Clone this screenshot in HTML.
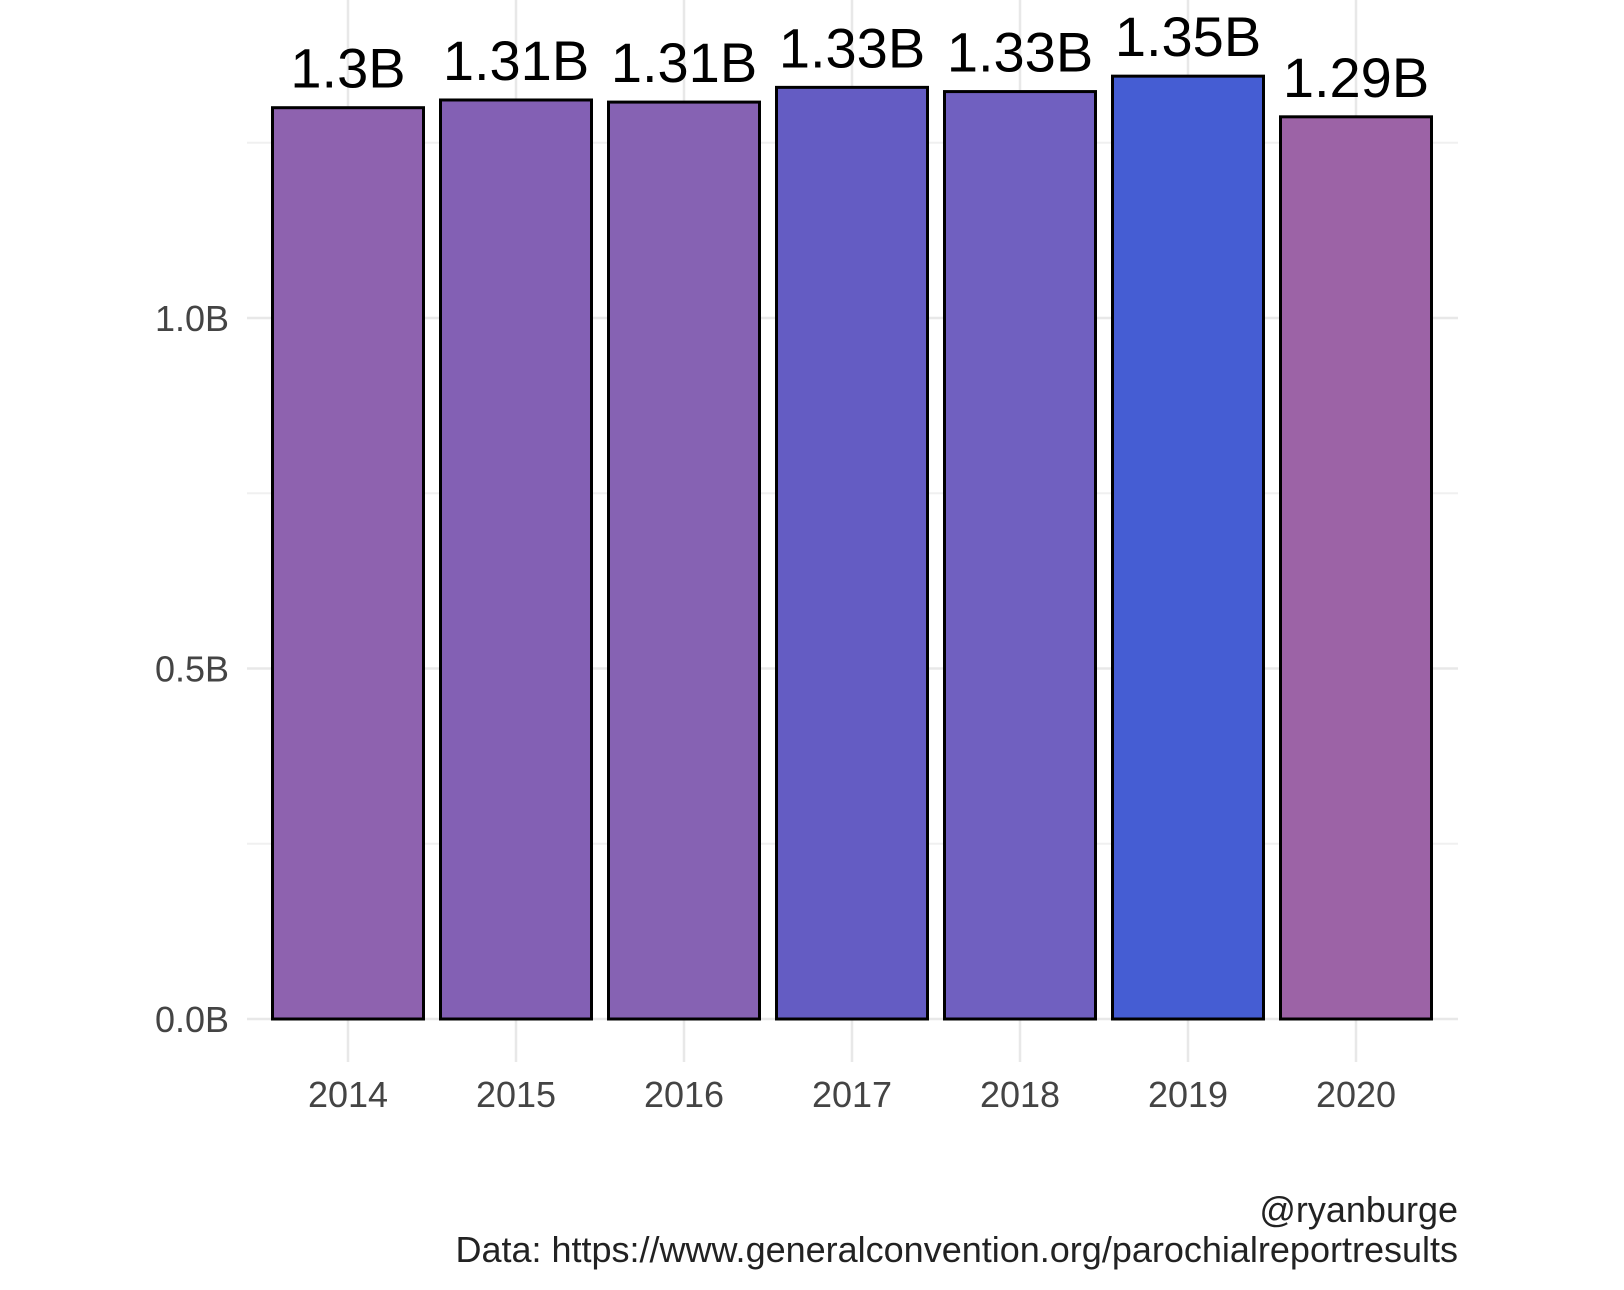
<!DOCTYPE html>
<html><head><meta charset="utf-8"><style>
html,body{margin:0;padding:0;background:#fff;}
svg{display:block;font-family:"Liberation Sans Narrow","Liberation Sans",sans-serif;}
</style></head><body>
<svg id="chart" width="1624" height="1290" viewBox="0 0 1624 1290" xmlns="http://www.w3.org/2000/svg">
<g id="grid"></g>
<g id="bars"></g>
<g id="labels"></g>
<g id="yaxis"></g>
<g id="xaxis"></g>
<text x="1458" y="1222" text-anchor="end" font-size="36" fill="#222">@ryanburge</text>
<text x="1458" y="1262" text-anchor="end" font-size="36" fill="#222">Data: https://www.generalconvention.org/parochialreportresults</text>
</svg>
<script>
const categories = ["2014","2015","2016","2017","2018","2019","2020"];
const values = [1.30, 1.311, 1.308, 1.329, 1.323, 1.345, 1.287];
const valueLabels = ["1.3B","1.31B","1.31B","1.33B","1.33B","1.35B","1.29B"];
const colors = ["#8e62af","#8360b4","#8662b3","#645cc3","#7060c0","#455dd3","#9c63a6"];
const yTicks = [0, 0.5, 1.0];
const yTickLabels = ["0.0B","0.5B","1.0B"];
const yMinor = [0.25, 0.75, 1.25];

const NS = "http://www.w3.org/2000/svg";
const y0 = 1019, yPer = 701;
const y = v => y0 - v * yPer;
const x0 = 348, step = 168, bw = 151;
const x = i => x0 + i * step;
const pL = 247, pR = 1458;
function mk(tag, attrs, parent){const e=document.createElementNS(NS,tag);for(const k in attrs)e.setAttribute(k,attrs[k]);parent.appendChild(e);return e;}
const grid=document.getElementById('grid'), bars=document.getElementById('bars'),
labels=document.getElementById('labels'), yaxis=document.getElementById('yaxis'), xaxis=document.getElementById('xaxis');

yMinor.forEach(v=>{const l=mk('line',{x1:pL,x2:pR,y1:y(v),y2:y(v),stroke:'#f0f0f0','stroke-width':2},grid);

});
yTicks.forEach((v,i)=>{const l=mk('line',{x1:pL,x2:pR,y1:y(v),y2:y(v),stroke:'#e8e8e8','stroke-width':2.5},grid);


const t=mk('text',{x:229,y:y(v)+13,'text-anchor':'end','font-size':36,fill:'#444'},yaxis);
t.textContent=yTickLabels[i];

});
categories.forEach((c,i)=>{const l=mk('line',{x1:x(i),x2:x(i),y1:0,y2:1062,stroke:'#e8e8e8','stroke-width':2.5},grid);


const r=mk('rect',{x:x(i)-bw/2,y:y(values[i]),width:bw,height:y(0)-y(values[i]),fill:colors[i],stroke:'#000','stroke-width':3},bars);


const t=mk('text',{x:x(i),y:y(values[i])-20,'text-anchor':'middle','font-size':56,fill:'#000'},labels);
t.textContent=valueLabels[i];


const xt=mk('text',{x:x(i),y:1107,'text-anchor':'middle','font-size':36,fill:'#444'},xaxis);
xt.textContent=c;

});
</script>
</body></html>
